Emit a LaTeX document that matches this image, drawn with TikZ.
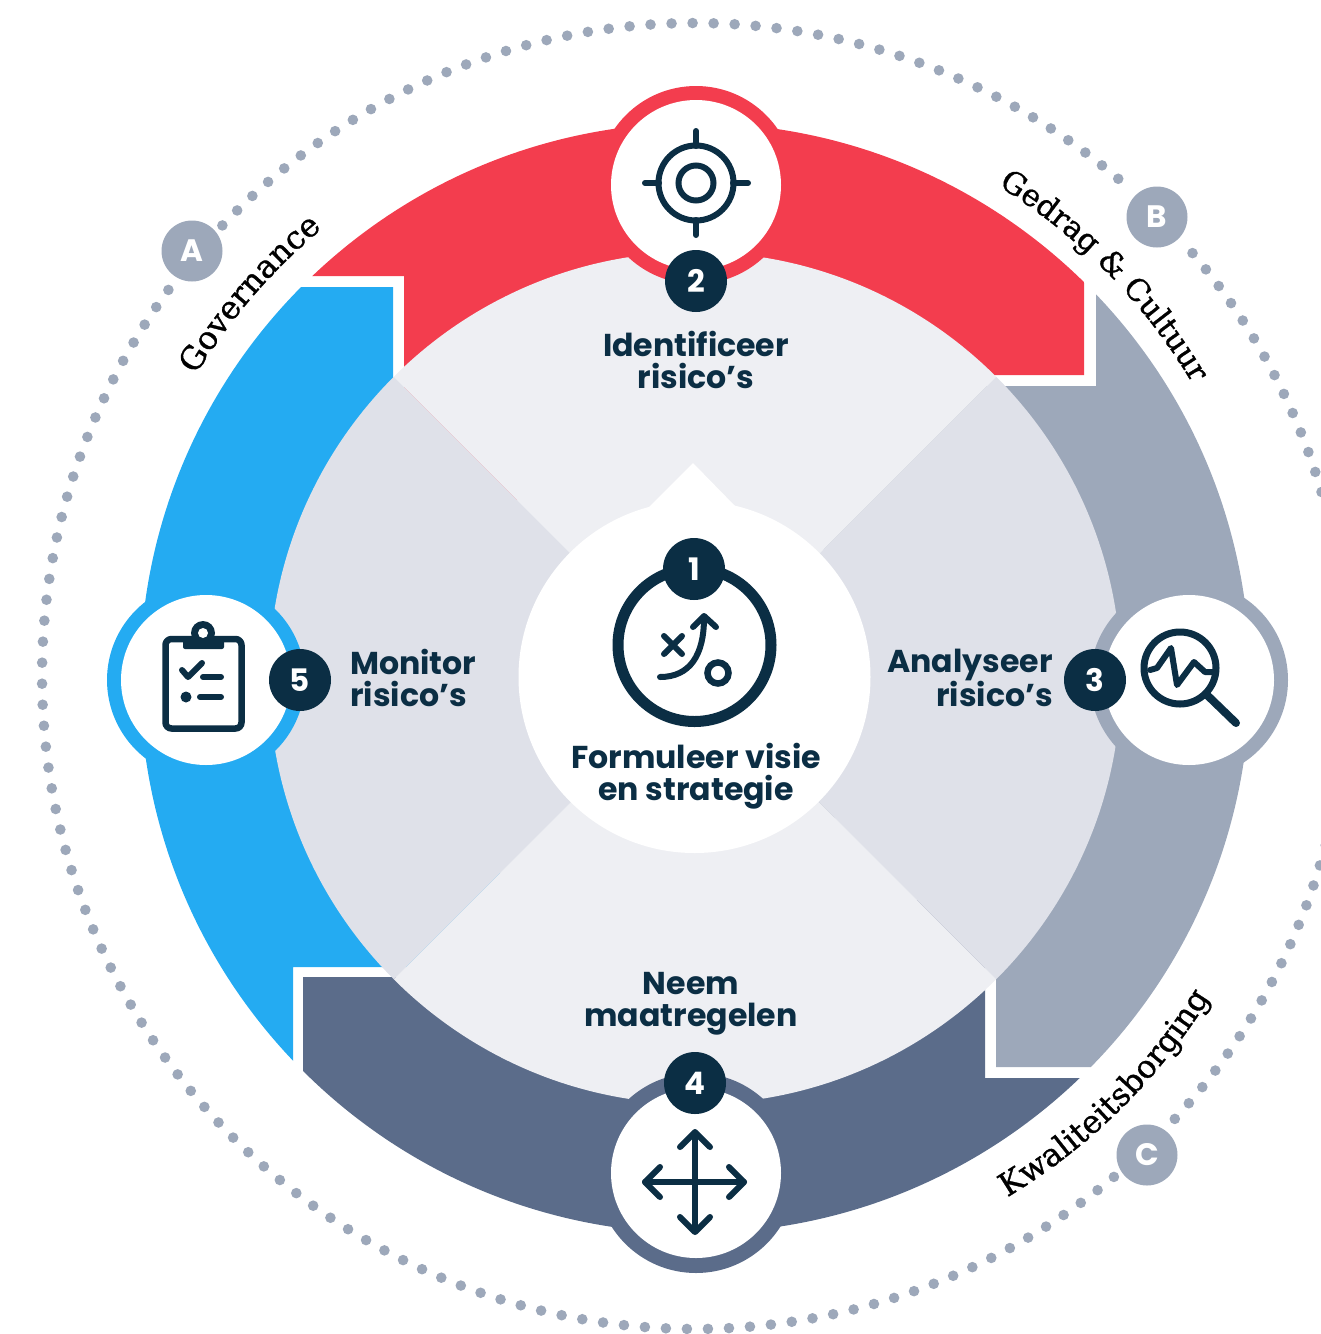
\documentclass[tikz,border=0pt]{standalone}
\usepackage{fontspec}
\usetikzlibrary{decorations.text}
\setmainfont{Poppins}
\newfontfamily\slab[FakeBold=1.0]{DejaVu Serif}
\definecolor{navy}{HTML}{0B2E44}
\definecolor{redc}{HTML}{F33D4E}
\definecolor{bluec}{HTML}{24ABF2}
\definecolor{greyc}{HTML}{9DA8BA}
\definecolor{darkc}{HTML}{5B6C8A}
\definecolor{lightq}{HTML}{EEEFF3}
\definecolor{midq}{HTML}{DFE1E9}
\tikzset{
  numbadge/.style={circle,fill=navy,text=white,minimum size=62pt,inner sep=0pt,font=\fontsize{31}{31}\selectfont\bfseries},
  letbadge/.style={circle,fill=greyc,text=white,minimum size=61pt,inner sep=0pt,font=\fontsize{31}{31}\selectfont\bfseries},
  lab/.style={inner sep=0pt,text=navy,font=\fontsize{31.6}{32}\selectfont\bfseries},
  ico/.style={draw=navy,line width=6pt,line cap=round,line join=round},
  curved/.style={decorate,decoration={text along path,text align=center,text={#1}}},
}
\begin{document}
\begin{tikzpicture}[x=1pt,y=-1pt]
\useasboundingbox (0,0) rectangle (1321,1334);
% dotted circle
\foreach \i in {0,...,194}{
  \pgfmathsetmacro{\ang}{116.06+\i*1.84615}
  \pgfmathsetmacro{\px}{695+653*cos(\ang)}
  \pgfmathsetmacro{\py}{676-653*sin(\ang)}
  \pgfmathtruncatemacro{\keep}{(veclen(\px-192,\py-251)<37)||(veclen(\px-1157,\py-217)<37)||(veclen(\px-1147,\py-1155)<37)?0:1}
  \ifnum\keep=1
    \fill[greyc] (\px,\py) circle[radius=5.3];
  \fi
}
% ring segments
\begin{scope}
\clip (0,276)--(404,276)--(404,500)--(800,500)--(900,375)--(1084,375)--(1084,0)--(0,0)--cycle;
\fill[redc] (695,678) circle[radius=555];
\end{scope}
\begin{scope}
\clip (1096,0)--(1096,386)--(900,386)--(800,600)--(800,800)--(996,900)--(996,1067)--(1321,1067)--(1321,0)--cycle;
\fill[greyc] (695,678) circle[radius=555];
\end{scope}
\begin{scope}
\clip (985,900)--(985,1078)--(1321,1078)--(1321,1334)--(303,1334)--(303,977)--(500,977)--(500,900)--cycle;
\fill[darkc] (695,678) circle[radius=555];
\end{scope}
\begin{scope}
\clip (393,500)--(393,287)--(0,287)--(0,1334)--(293,1334)--(293,967)--(500,967)--(500,500)--cycle;
\fill[bluec] (695,678) circle[radius=555];
\end{scope}
% inner quadrants
\begin{scope}
\clip (695,678) circle[radius=426];
\fill[lightq] (695,678)--(95,78)--(1295,78)--cycle;
\fill[lightq] (695,678)--(95,1278)--(1295,1278)--cycle;
\fill[midq] (695,678)--(95,78)--(95,1278)--cycle;
\fill[midq] (695,678)--(1295,78)--(1295,1278)--cycle;
\end{scope}
% step discs
\fill[redc] (696,185) circle[radius=99];
\fill[white] (696,185) circle[radius=85];
\fill[greyc] (1189,680) circle[radius=99];
\fill[white] (1189,680) circle[radius=85];
\fill[darkc] (696,1173) circle[radius=100];
\fill[white] (696,1173) circle[radius=85];
\fill[bluec] (206,680) circle[radius=99];
\fill[white] (206,680) circle[radius=85];
% centre
\fill[white] (694.5,677) circle[radius=176];
\fill[white] (648,508)--(693,463)--(737,508)--cycle;
% centre icon
\draw[navy,line width=11pt] (694.5,645) circle[radius=76.5];
\draw[ico] (660,677) .. controls (690,677) and (704,655) .. (704,618);
\draw[ico] (693,627)--(704,616)--(716,627);
\draw[ico] (664,636)--(682,654) (682,636)--(664,654);
\draw[navy,line width=6.5pt] (718,673) circle[radius=10.5];
% target
\draw[navy,line width=6pt] (696,183) circle[radius=37.5];
\draw[navy,line width=6pt] (696,183) circle[radius=17.5];
\draw[ico] (696,131)--(696,146) (696,220)--(696,235) (645,183)--(659,183) (733,183)--(748,183);
% magnifier
\draw[navy,line width=7pt] (1180,668) circle[radius=36];
\draw[navy,line width=8pt,line cap=round] (1207,695)--(1236,723);
\draw[ico] (1150,670)--(1157,668)--(1171,648)--(1177,685)--(1194,662)--(1205,672)--(1213,672);
% move
\draw[ico] (695,1133)--(695,1231) (645,1182)--(744,1182);
\draw[ico] (680,1147)--(695,1132)--(710,1147);
\draw[ico] (680,1217)--(695,1232)--(710,1217);
\draw[ico] (660,1167)--(645,1182)--(660,1197);
\draw[ico] (729,1167)--(744,1182)--(729,1197);
% clipboard
\draw[navy,line width=6.5pt,line join=round,rounded corners=6pt] (165.5,639) rectangle (241.5,728.5);
\fill[navy,rounded corners=2pt] (183,636) rectangle (224,649);
\fill[navy] (203,633) circle[radius=12];
\fill[white] (203,633) circle[radius=5];
\draw[ico] (182,670)--(188,677)--(202,663);
\draw[ico] (203,677)--(221,677) (200,697)--(221,697);
\fill[navy] (186,697) circle[radius=5.5];
% labels
\node[lab,align=center] (t2) at (696,360) {Identificeer\\risico’s};
\node[lab,align=right,anchor=east] (t3) at (1053,678) {Analyseer\\risico’s};
\node[lab,align=left,anchor=west] (t5) at (350,678) {Monitor\\risico’s};
\node[lab,align=center] (t4) at (691,1004) {Neem\\maatregelen};
\node[lab,align=center] (t1) at (696,776) {Formuleer visie\\en strategie};
% number badges
\node[numbadge] (n1) at (694,569) {1};
\node[numbadge] (n2) at (696,281) {2};
\node[numbadge] (n3) at (1095,680) {3};
\node[numbadge] (n4) at (695,1083) {4};
\node[numbadge] (n5) at (300,680) {5};
% letter badges
\node[letbadge] (a) at (192,251) {A};
\node[letbadge] (b) at (1157,217) {B};
\node[letbadge] (c) at (1147,1155) {C};
% curved labels
\path[curved={|\slab\fontsize{32}{32}\selectfont|Governance}]
  ({695+584*cos(165.7)},{678-584*sin(165.7)}) arc[start angle=-165.7,end angle=-112.7,radius=584];
\path[curved={|\slab\fontsize{30.5}{30.5}\selectfont|Gedrag {\&} Cultuur}]
  ({695+578*cos(74.5)},{678-578*sin(74.5)}) arc[start angle=-74.5,end angle=-14.5,radius=578];
\path[curved={|\slab\fontsize{31.8}{31.8}\selectfont|Kwaliteitsborging}]
  ({695+606*cos(-80.4)},{678-606*sin(-80.4)}) arc[start angle=80.4,end angle=10.4,radius=606];
\end{tikzpicture}
\end{document}
